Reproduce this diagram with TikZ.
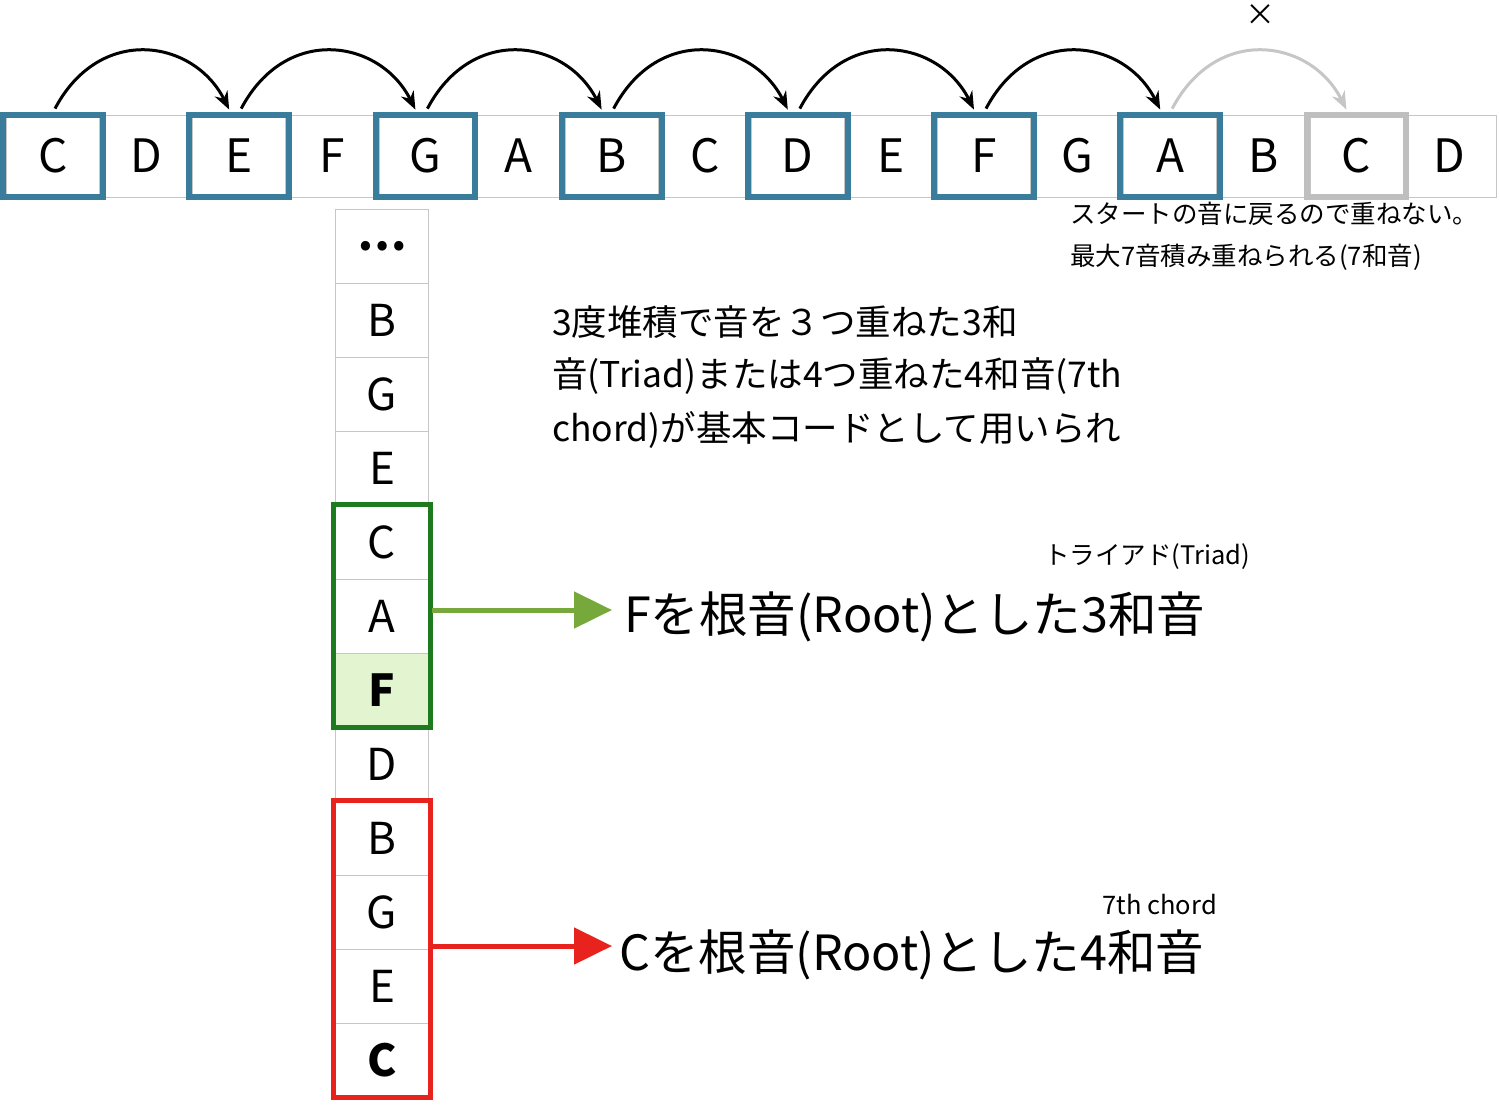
\documentclass[tikz,border=0pt]{standalone}
\usepackage{fontspec}
\setmainfont{Noto Sans CJK JP}
\usetikzlibrary{arrows.meta}
\definecolor{bl}{HTML}{3A7C9C}
\definecolor{gr}{HTML}{1E7A1E}
\definecolor{ga}{HTML}{77A83C}
\definecolor{rd}{HTML}{E8231E}
\definecolor{lg}{HTML}{E2F5D0}
\begin{document}
\begin{tikzpicture}[x=1pt,y=-1pt,
 cell/.style={draw=gray!45,line width=0.8pt,minimum width=93pt,minimum height=82pt,inner sep=0pt,font=\fontsize{46}{46}\selectfont},
 vcell/.style={draw=gray!45,line width=0.8pt,minimum width=93pt,minimum height=74pt,inner sep=0pt,font=\fontsize{44}{44}\selectfont},
 hop/.style={-{Stealth[length=18pt,width=14pt]},line width=3pt},
 jp/.style={font=\fontsize{35.5}{35.5}\selectfont,anchor=west,inner sep=0pt},
 sm/.style={font=\fontsize{25.5}{25.5}\selectfont,inner sep=0pt}]
\useasboundingbox (0,0) rectangle (1500,1104);
\foreach \t [count=\i from 0] in {C,D,E,F,G,A,B,C,D,E,F,G,A,B,C,D}
  \node[cell] (t\i) at (53+\i*93.1,156) {\t};
\foreach \i in {0,2,4,6,8,10,12}
  \draw[bl,line width=6pt] ([xshift=-3pt]t\i.south west) rectangle ([xshift=3pt]t\i.north east);
\draw[gray!50,line width=6pt] ([xshift=-3pt]t14.south west) rectangle ([xshift=3pt]t14.north east);
\foreach \a/\b in {0/2,2/4,4/6,6/8,8/10,10/12}
  \draw[hop] ([xshift=2pt,yshift=6pt]t\a.north) .. controls +(45,-85) and +(-35,-70) .. ([xshift=-10pt,yshift=5pt]t\b.north);
\draw[hop,gray!45] ([xshift=2pt,yshift=6pt]t12.north) .. controls +(45,-85) and +(-35,-70) .. ([xshift=-10pt,yshift=5pt]t14.north);
\node[font=\fontsize{30}{30}\selectfont,inner sep=0pt] (x) at (1260,15) {×};
\node[sm,anchor=west] (n1) at (1070,214) {スタートの音に戻るので重ねない。};
\node[sm,anchor=west] (n2) at (1070,257) {最大7音積み重ねられる(7和音)};
\foreach \t [count=\i from 0] in {\textbf{…},B,G,E,C,A,\textbf{F},D,B,G,E,\textbf{C}}
  \node[vcell] (v\i) at (382,246+\i*74) {\t};
\fill[lg] (v6.north west) rectangle (v6.south east);
\node[vcell,font=\fontsize{44}{44}\selectfont\bfseries] at (v6) {F};
\draw[gr,line width=5pt] ([xshift=-2pt]v4.north west) rectangle ([xshift=2pt]v6.south east);
\draw[rd,line width=5pt] ([xshift=-2pt]v8.north west) rectangle ([xshift=2pt]v11.south east);
\node[jp] (p1) at (552,322) {3度堆積で音を３つ重ねた3和};
\node[jp] (p2) at (552,376) {音(Triad)または4つ重ねた4和音(7th};
\node[jp] (p3) at (552,430) {chord)が基本コードとして用いられ};
\coordinate (g0) at (432,610);
\coordinate (r0) at (432,946);
\node[font=\fontsize{48.5}{48.5}\selectfont,anchor=west,inner sep=0pt] (f) at (624,617) {Fを根音(Root)とした3和音};
\node[font=\fontsize{48.5}{48.5}\selectfont,anchor=west,inner sep=0pt] (c) at (619,955) {Cを根音(Root)とした4和音};
\draw[ga,line width=5pt,-{Triangle[length=38pt,width=36pt]}] (g0) -- (612,610);
\draw[rd,line width=5pt,-{Triangle[length=38pt,width=36pt]}] (r0) -- (612,946);
\node[sm,anchor=east] (tr) at (1250,557) {トライアド(Triad)};
\node[sm,anchor=east] (sc) at (1217,905) {7th chord};
\end{tikzpicture}
\end{document}
